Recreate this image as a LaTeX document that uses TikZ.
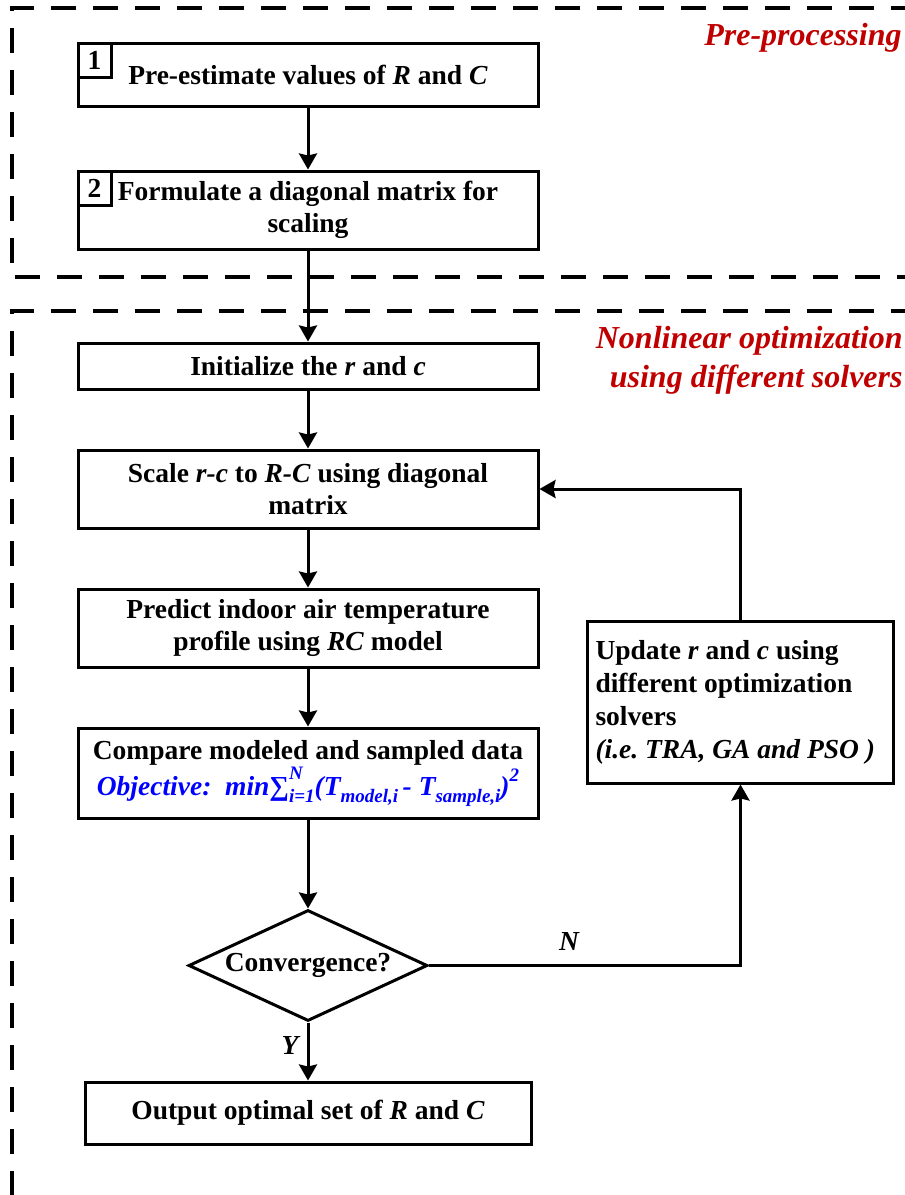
\documentclass[tikz,border=0pt]{standalone}
\usepackage{fontspec}
\setmainfont{Liberation Serif}
\usetikzlibrary{shapes.geometric,arrows.meta}
\definecolor{labelred}{RGB}{192,0,0}
\definecolor{objblue}{RGB}{0,0,255}
\newcommand{\subsz}{\fontsize{9.5pt}{10pt}\selectfont}
\frenchspacing

\begin{document}
\begin{tikzpicture}[x=0.5pt,y=-0.5pt,
  font=\fontsize{13.75pt}{16pt}\selectfont\bfseries,
  box/.style={draw,line width=1.5pt,minimum width=230pt,align=center,inner sep=2pt},
  numbox/.style={draw,line width=1.5pt,minimum width=16.5pt,minimum height=17pt,inner sep=0pt,anchor=north west},
  flow/.style={line width=1.5pt,-{Stealth[length=8pt,width=9pt,inset=1pt]}},
  frame/.style={line width=2pt,dash pattern=on 12.5pt off 8.5pt},
  region/.style={text=labelred,font=\fontsize{16pt}{19.5pt}\selectfont\bfseries\itshape,inner sep=0pt,align=right},
  tag/.style={font=\fontsize{13.75pt}{16pt}\selectfont\bfseries\itshape,inner sep=0pt},
  ]
\useasboundingbox (0,0) rectangle (905,1195);
\clip (0,0) rectangle (905,1195);

% dashed stage frames
\draw[frame] (1000,8) -- (12,8) -- (12,277) -- (1000,277);
\draw[frame] (1000,311) -- (12,311) -- (12,1300);

% stage titles
\node[region,anchor=base east] (lab1) at (902,45) {Pre-processing};
\node[region,anchor=north east] (lab2) at (903,326) {Nonlinear optimization\\using different solvers};

% pre-processing steps
\node[box,minimum height=31.5pt] (b1) at (308,74.5) {Pre-estimate values of \textit{R} and \textit{C}};
\node[numbox] (n1) at (b1.north west) {1};
\node[box,minimum height=39pt] (b2) at (308,210) {Formulate a diagonal matrix for\\scaling};
\node[numbox] (n2) at (b2.north west) {2};

% optimization loop
\node[box,minimum height=23pt] (b3) at (308,366) {Initialize the \textit{r} and \textit{c}};
\node[box,minimum height=39pt] (b4) at (308,489) {Scale \textit{r-c} to \textit{R-C} using diagonal\\matrix};
\node[box,minimum height=39pt] (b5) at (308,628) {Predict indoor air temperature\\profile using \textit{RC} model};
\node[box,minimum height=45pt] (b6) at (308,773) {Compare modeled and sampled data\\
  {\color{objblue}\itshape Objective:\ \ min∑\rlap{\raisebox{1.25ex}{\subsz N}}\raisebox{-0.55ex}{\subsz i=1}(T\raisebox{-0.55ex}{\subsz model,i}\,- T\raisebox{-0.55ex}{\subsz sample,i})\raisebox{1.1ex}{\subsz 2}}};
\node[draw,line width=1.5pt,diamond,aspect=2.15,inner sep=0pt,minimum width=119.5pt,minimum height=55.5pt] (dia) at (308,965.5) {Convergence?};
\node[box,minimum width=223pt,minimum height=31pt] (out) at (308,1113) {Output optimal set of \textit{R} and \textit{C}};
\node[draw,line width=1.5pt,minimum width=153pt,minimum height=81pt,text width=145pt,inner xsep=4pt,align=flush left,font=\fontsize{13.75pt}{16.5pt}\selectfont\bfseries] (upd) at (740.5,702)
  {Update \textit{r} and \textit{c} using\\different optimization\\solvers\\\mbox{\textit{(i.e. TRA, GA and PSO )}}};

% connectors
\draw[flow] (b1.south) -- (b2.north);
\draw[flow] (b2.south) -- (b3.north);
\draw[flow] (b3.south) -- (b4.north);
\draw[flow] (b4.south) -- (b5.north);
\draw[flow] (b5.south) -- (b6.north);
\draw[flow] (b6.south) -- (dia.north);
\draw[flow] (dia.south) -- node[tag,pos=0.4,left=4pt] {Y} (out.north);
\draw[flow] (dia.east) -- node[tag,pos=0.45,above=7pt] {N} (dia.east -| upd.south) -- (upd.south);
\draw[flow] (upd.north) -- (upd.north |- b4.east) -- (b4.east);
\end{tikzpicture}
\end{document}
